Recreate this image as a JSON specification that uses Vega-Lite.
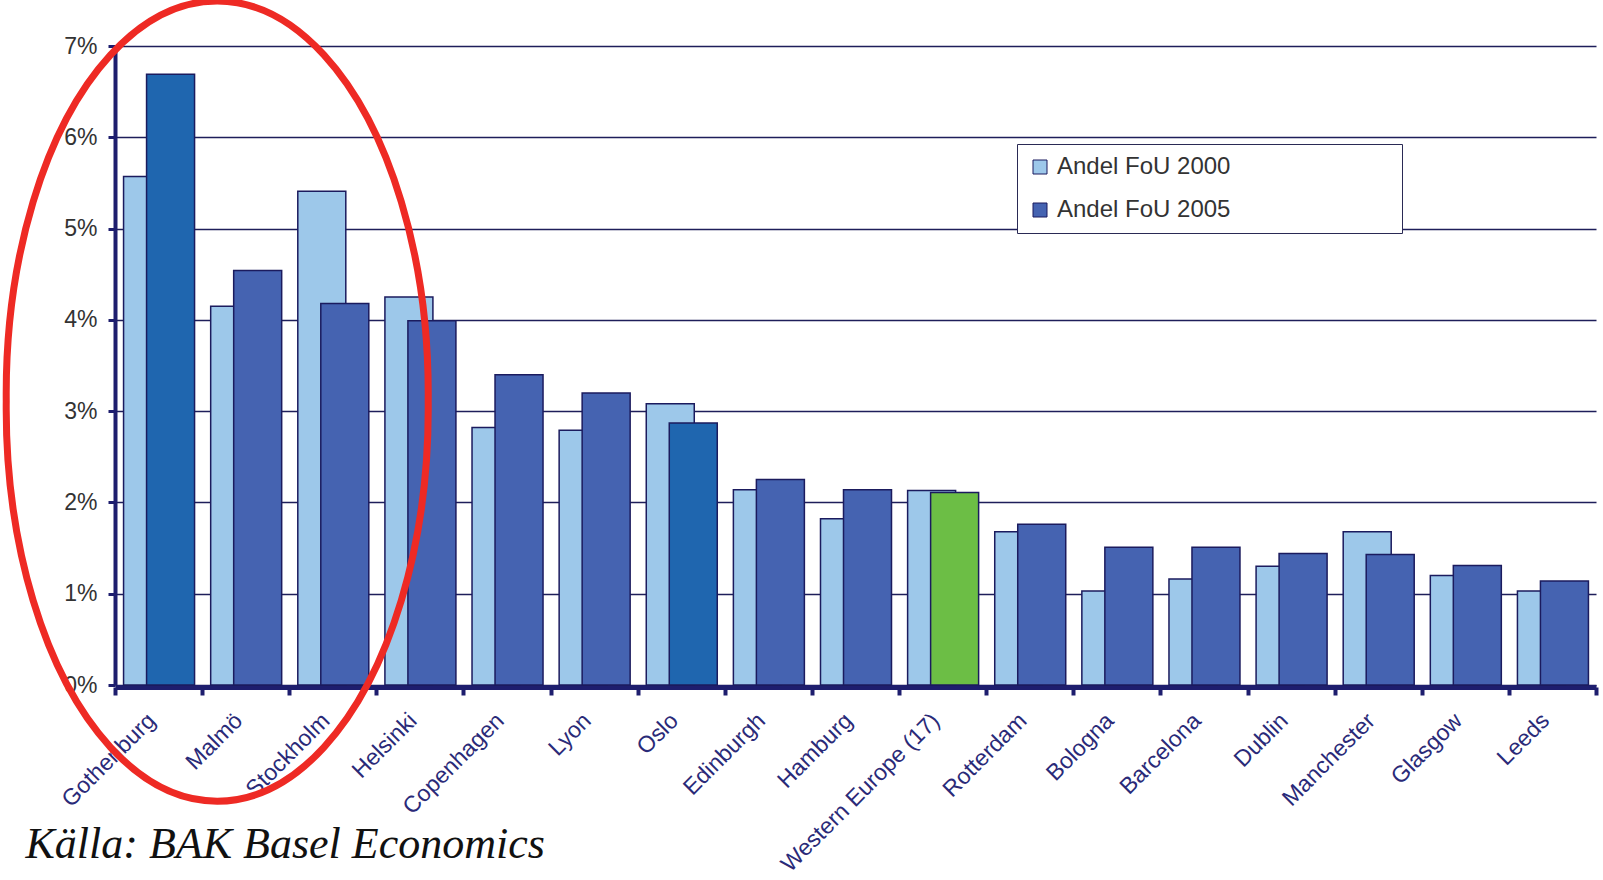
{
  "$schema": "https://vega.github.io/schema/vega-lite/v6.json",
  "width": 1481,
  "height": 639,
  "autosize": "none",
  "padding": {"left": 115, "top": 46, "right": 7, "bottom": 195},
  "background": "white",
  "config": {"view": {"stroke": null}, "font": "Liberation Sans"},
  "data": {
    "values": [
      {"city": "Gothenburg", "series": "Andel FoU 2000", "value": 0.0557},
      {"city": "Gothenburg", "series": "Andel FoU 2005", "value": 0.0669},
      {"city": "Malmö", "series": "Andel FoU 2000", "value": 0.0415},
      {"city": "Malmö", "series": "Andel FoU 2005", "value": 0.0454},
      {"city": "Stockholm", "series": "Andel FoU 2000", "value": 0.0541},
      {"city": "Stockholm", "series": "Andel FoU 2005", "value": 0.0418},
      {"city": "Helsinki", "series": "Andel FoU 2000", "value": 0.0425},
      {"city": "Helsinki", "series": "Andel FoU 2005", "value": 0.0399},
      {"city": "Copenhagen", "series": "Andel FoU 2000", "value": 0.0282},
      {"city": "Copenhagen", "series": "Andel FoU 2005", "value": 0.034},
      {"city": "Lyon", "series": "Andel FoU 2000", "value": 0.0279},
      {"city": "Lyon", "series": "Andel FoU 2005", "value": 0.032},
      {"city": "Oslo", "series": "Andel FoU 2000", "value": 0.0308},
      {"city": "Oslo", "series": "Andel FoU 2005", "value": 0.0287},
      {"city": "Edinburgh", "series": "Andel FoU 2000", "value": 0.0214},
      {"city": "Edinburgh", "series": "Andel FoU 2005", "value": 0.0225},
      {"city": "Hamburg", "series": "Andel FoU 2000", "value": 0.0182},
      {"city": "Hamburg", "series": "Andel FoU 2005", "value": 0.0214},
      {"city": "Western Europe (17)", "series": "Andel FoU 2000", "value": 0.0213},
      {"city": "Western Europe (17)", "series": "Andel FoU 2005", "value": 0.0211},
      {"city": "Rotterdam", "series": "Andel FoU 2000", "value": 0.0168},
      {"city": "Rotterdam", "series": "Andel FoU 2005", "value": 0.0176},
      {"city": "Bologna", "series": "Andel FoU 2000", "value": 0.0103},
      {"city": "Bologna", "series": "Andel FoU 2005", "value": 0.0151},
      {"city": "Barcelona", "series": "Andel FoU 2000", "value": 0.0116},
      {"city": "Barcelona", "series": "Andel FoU 2005", "value": 0.0151},
      {"city": "Dublin", "series": "Andel FoU 2000", "value": 0.013},
      {"city": "Dublin", "series": "Andel FoU 2005", "value": 0.0144},
      {"city": "Manchester", "series": "Andel FoU 2000", "value": 0.0168},
      {"city": "Manchester", "series": "Andel FoU 2005", "value": 0.0143},
      {"city": "Glasgow", "series": "Andel FoU 2000", "value": 0.012},
      {"city": "Glasgow", "series": "Andel FoU 2005", "value": 0.0131},
      {"city": "Leeds", "series": "Andel FoU 2000", "value": 0.0103},
      {"city": "Leeds", "series": "Andel FoU 2005", "value": 0.0114}
    ]
  },
  "encoding": {
    "x": {
      "field": "city",
      "type": "nominal",
      "scale": {
        "domain": ["Gothenburg", "Malmö", "Stockholm", "Helsinki", "Copenhagen", "Lyon", "Oslo", "Edinburgh", "Hamburg", "Western Europe (17)", "Rotterdam", "Bologna", "Barcelona", "Dublin", "Manchester", "Glasgow", "Leeds"],
        "paddingInner": 0,
        "paddingOuter": 0
      },
      "axis": {
        "title": "Källa: BAK Basel Economics",
        "titleFont": "Liberation Serif",
        "titleFontStyle": "italic",
        "titleFontWeight": "normal",
        "titleFontSize": 44,
        "titleColor": "#111111",
        "titleX": -90,
        "titleY": 170,
        "titleAlign": "left",
        "titleAnchor": "start",
        "titleBaseline": "alphabetic",
        "labelAngle": -45,
        "labelFontSize": 23,
        "labelColor": "#2a2a78",
        "labelPadding": 14,
        "labelOffset": -15,
        "labelLimit": 400,
        "domainColor": "#1e1e6e",
        "domainWidth": 5,
        "tickColor": "#1e1e6e",
        "tickWidth": 4,
        "tickSize": 8,
        "tickBand": "extent",
        "offset": 2
      }
    },
    "y": {
      "field": "value",
      "type": "quantitative",
      "scale": {"domain": [0, 0.07], "nice": false},
      "axis": {
        "title": null,
        "format": ".0%",
        "values": [0, 0.01, 0.02, 0.03, 0.04, 0.05, 0.06, 0.07],
        "grid": true,
        "gridColor": "#1e1e5a",
        "gridWidth": 1.5,
        "domainColor": "#1e1e6e",
        "domainWidth": 4,
        "tickColor": "#1e1e6e",
        "tickSize": 7,
        "tickWidth": 3,
        "labelFontSize": 23,
        "labelColor": "#333333",
        "labelPadding": 11
      }
    }
  },
  "layer": [
    {
      "transform": [{"filter": "datum.series === 'Andel FoU 2000'"}],
      "mark": {"type": "bar", "width": 48, "xOffset": -11, "stroke": "#1b1b5e", "strokeWidth": 1.5},
      "encoding": {
        "color": {
          "field": "series",
          "type": "nominal",
          "scale": {"domain": ["Andel FoU 2000", "Andel FoU 2005"], "range": ["#9DC8EA", "#4563B1"]},
          "legend": {
            "orient": "none",
            "legendX": 902,
            "legendY": 98,
            "title": " ",
            "titleOrient": "right",
            "titlePadding": 161,
            "titleFontSize": 10,
            "direction": "vertical",
            "padding": 11,
            "strokeColor": "#2a2a55",
            "fillColor": "white",
            "symbolType": "square",
            "symbolSize": 196,
            "symbolStrokeColor": "#1b1b5e",
            "symbolStrokeWidth": 1,
            "labelFontSize": 24,
            "labelColor": "#333333",
            "labelFont": "Liberation Sans",
            "labelLimit": 600,
            "rowPadding": 19,
            "labelOffset": 5
          }
        }
      }
    },
    {
      "transform": [{"filter": "datum.series === 'Andel FoU 2005'"}],
      "mark": {"type": "bar", "width": 48, "xOffset": 12, "stroke": "#1b1b5e", "strokeWidth": 1.5},
      "encoding": {
        "color": {
          "field": "series",
          "type": "nominal",
          "scale": {"domain": ["Andel FoU 2000", "Andel FoU 2005"], "range": ["#9DC8EA", "#4563B1"]},
          "condition": [
            {"test": "datum.city === 'Western Europe (17)'", "value": "#6CBE45"},
            {"test": "datum.city === 'Gothenburg' || datum.city === 'Oslo'", "value": "#1F66AF"}
          ]
        }
      }
    },
    {
      "data": {"values": [{"city": "Malmö", "value": 0.0311}]},
      "mark": {
        "type": "point",
        "shape": "M -0.610 0 A 0.5376 1 0 1 0 0.465 0 A 0.5376 1 0 1 0 -0.610 0 Z",
        "size": 616225,
        "filled": false,
        "stroke": "#EE2A24",
        "strokeWidth": 7,
        "opacity": 1
      }
    }
  ]
}
